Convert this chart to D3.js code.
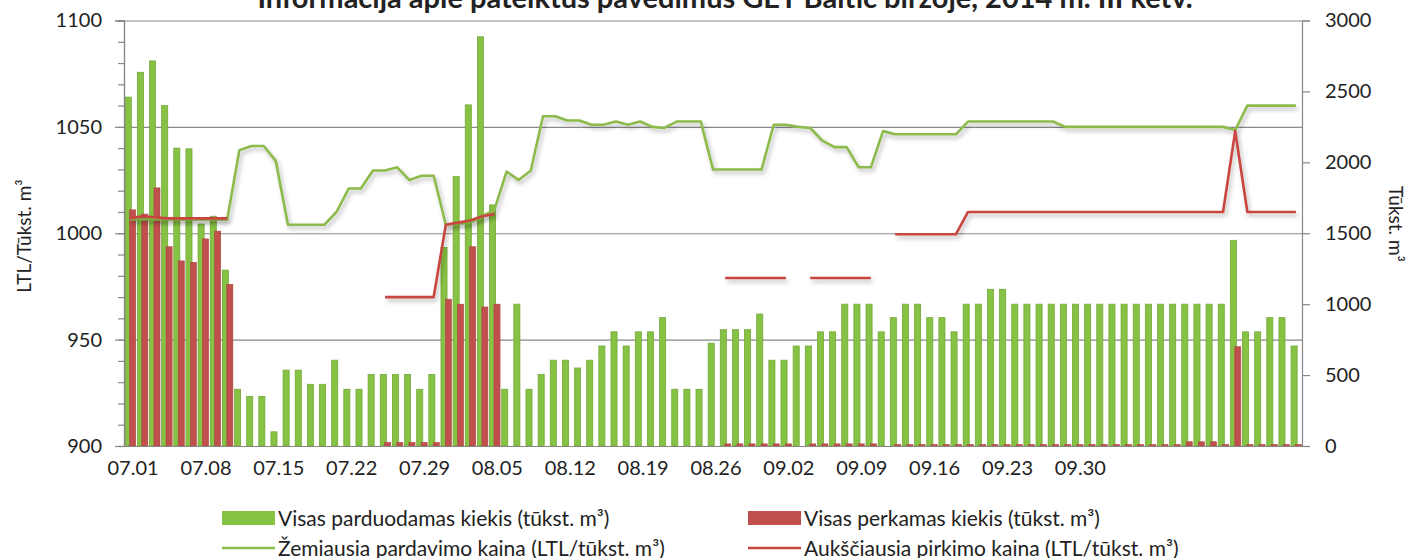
<!DOCTYPE html>
<html>
<head>
<meta charset="utf-8">
<script src="https://cdn.jsdelivr.net/npm/d3@7"></script>
<style>
  body { margin: 0; background: #fff; }
  svg { display: block; font-family: Lato, "Noto Sans", sans-serif; }
</style>
</head>
<body>
<svg width="1410" height="558"></svg>
<script>
// dienos (kategorijos), po 6 per savaitę
var categories = [
  "07.01","07.02","07.03","07.04","07.05","07.06",
  "07.08","07.09","07.10","07.11","07.12","07.13",
  "07.15","07.16","07.17","07.18","07.19","07.20",
  "07.22","07.23","07.24","07.25","07.26","07.27",
  "07.29","07.30","07.31","08.01","08.02","08.03",
  "08.05","08.06","08.07","08.08","08.09","08.10",
  "08.12","08.13","08.14","08.15","08.16","08.17",
  "08.19","08.20","08.21","08.22","08.23","08.24",
  "08.26","08.27","08.28","08.29","08.30","08.31",
  "09.02","09.03","09.04","09.05","09.06","09.07",
  "09.09","09.10","09.11","09.12","09.13","09.14",
  "09.16","09.17","09.18","09.19","09.20","09.21",
  "09.23","09.24","09.25","09.26","09.27","09.28",
  "09.30","10.01","10.02","10.03","10.04","10.05",
  "10.07","10.08","10.09","10.10","10.11","10.12",
  "10.14","10.15","10.16","10.17","10.18","10.19",
  "10.21"
];
var tickLabels = ["07.01","07.08","07.15","07.22","07.29","08.05","08.12",
  "08.19","08.26","09.02","09.09","09.16","09.23","09.30"];

// Visas parduodamas kiekis (tūkst. m3)
var sellVolume = [
  2460, 2635, 2715, 2400, 2100, 2095,
  1565, 1620, 1240, 400, 350, 350,
  100, 535, 535, 435, 435, 605,
  400, 400, 505, 505, 505, 505,
  400, 505, 1400, 1900, 2405, 2885,
  1700, 400, 1000, 400, 505, 605,
  605, 550, 605, 705, 805, 705,
  805, 805, 905, 400, 400, 400,
  725, 820, 820, 820, 930, 605,
  605, 705, 705, 805, 805, 1000,
  1000, 1000, 805, 905, 1000, 1000,
  905, 905, 805, 1000, 1000, 1105,
  1105, 1000, 1000, 1000, 1000, 1000,
  1000, 1000, 1000, 1000, 1000, 1000,
  1000, 1000, 1000, 1000, 1000, 1000,
  1000, 1450, 805, 805, 905, 905,
  705
];
// Visas perkamas kiekis (tūkst. m3)
var buyVolume = [
  1665, 1635, 1820, 1405, 1305, 1295,
  1460, 1515, 1140, 0, 0, 0,
  0, 0, 0, 0, 0, 0,
  0, 0, 0, 25, 25, 25,
  25, 25, 1035, 1000, 1405, 980,
  1000, 0, 0, 0, 0, 0,
  0, 0, 0, 0, 0, 0,
  0, 0, 0, 0, 0, 0,
  0, 15, 15, 15, 15, 15,
  15, 0, 15, 15, 15, 15,
  15, 15, 0, 10, 10, 10,
  10, 10, 10, 10, 10, 10,
  10, 10, 10, 10, 10, 10,
  10, 10, 10, 10, 10, 10,
  10, 10, 10, 30, 30, 30,
  10, 700, 10, 10, 10, 10,
  10
];
// Žemiausia pardavimo kaina (LTL/tūkst. m3)
var minSellPrice = [
  1006.5, 1006.5, 1006.5, 1006.5, 1006.5, 1006.5,
  1006.5, 1006.5, 1006.5, 1039, 1041, 1041,
  1034, 1004, 1004, 1004, 1004, 1010,
  1021, 1021, 1029.5, 1029.5, 1031, 1025,
  1027, 1027, 1004, 1004.5, 1005, 1008,
  1011, 1029, 1025, 1029.5, 1055, 1055,
  1053, 1053, 1051, 1051, 1052.5, 1051,
  1052.5, 1050, 1049.5, 1052.5, 1052.5, 1052.5,
  1030, 1030, 1030, 1030, 1030, 1051,
  1051, 1050, 1049.5, 1043.5, 1040.5, 1040.5,
  1031, 1031, 1048, 1046.5, 1046.5, 1046.5,
  1046.5, 1046.5, 1046.5, 1052.5, 1052.5, 1052.5,
  1052.5, 1052.5, 1052.5, 1052.5, 1052.5, 1050,
  1050, 1050, 1050, 1050, 1050, 1050,
  1050, 1050, 1050, 1050, 1050, 1050,
  1050, 1048.5, 1060, 1060, 1060, 1060,
  1060
];
// Aukščiausia pirkimo kaina (LTL/tūkst. m3)
var maxBuyPrice = [
  1007, 1008, 1007.5, 1007, 1007, 1007,
  1007, 1007, 1007, null, null, null,
  null, null, null, null, null, null,
  null, null, null, 970, 970, 970,
  970, 970, 1004, 1005, 1006, 1008,
  1009, null, null, null, null, null,
  null, null, null, null, null, null,
  null, null, null, null, null, null,
  null, 979, 979, 979, 979, 979,
  979, null, 979, 979, 979, 979,
  979, 979, null, 999.5, 999.5, 999.5,
  999.5, 999.5, 999.5, 1010, 1010, 1010,
  1010, 1010, 1010, 1010, 1010, 1010,
  1010, 1010, 1010, 1010, 1010, 1010,
  1010, 1010, 1010, 1010, 1010, 1010,
  1010, 1048, 1010, 1010, 1010, 1010,
  1010
];

var GREEN_BAR = "#86c243", GREEN_EDGE = "#74a83a";
var RED_BAR = "#c0504d", RED_EDGE = "#ad4542";
var GREEN_LINE = "#8cbb4b", RED_LINE = "#c9453f";
var AXIS = "#888", TEXT = "#222";

var plot = {left: 124, right: 1302, top: 20.5, bottom: 446};
var svg = d3.select("svg");

var defs = svg.append("defs");
defs.append("filter").attr("id", "shadow")
    .attr("x", "-5%").attr("y", "-20%").attr("width", "110%").attr("height", "140%")
    .append("feDropShadow")
    .attr("dx", 2).attr("dy", 3).attr("stdDeviation", 2.2)
    .attr("flood-color", "#000").attr("flood-opacity", 0.28);

var x = d3.scaleBand().domain(categories).range([plot.left, plot.right]);
var yL = d3.scaleLinear().domain([900, 1100]).range([plot.bottom, plot.top]);
var yR = d3.scaleLinear().domain([0, 3000]).range([plot.bottom, plot.top]);
var bw = x.bandwidth();
var barW = bw * 0.5;

// title (cut at the top, as in the original)
svg.append("text")
    .attr("x", 725).attr("y", 7.5)
    .attr("text-anchor", "middle")
    .attr("font-size", 29).attr("font-weight", "bold").attr("fill", TEXT)
    .text("Informacija apie pateiktus pavedimus GET Baltic biržoje, 2014 m. III ketv.");

// gridlines
svg.append("g")
    .attr("transform", "translate(" + plot.left + ",0)")
    .call(d3.axisLeft(yL).tickValues([950, 1000, 1050, 1100])
        .tickSize(-(plot.right - plot.left)).tickFormat(""))
    .call(function(g) {
        g.select(".domain").remove();
        g.selectAll("line").attr("stroke", AXIS).attr("stroke-width", 1.2);
    });

// bars
var bars = svg.append("g");
bars.selectAll(".sell")
    .data(sellVolume)
    .enter().append("rect")
    .attr("class", "sell")
    .attr("x", function(d, i) { return x(categories[i]) + bw / 2 - barW * 0.8; })
    .attr("y", function(d) { return yR(d); })
    .attr("width", barW)
    .attr("height", function(d) { return plot.bottom - yR(d); })
    .attr("fill", GREEN_BAR)
    .attr("stroke", GREEN_EDGE).attr("stroke-width", 0.8);

bars.selectAll(".buy")
    .data(buyVolume)
    .enter().append("rect")
    .attr("class", "buy")
    .attr("x", function(d, i) { return x(categories[i]) + bw / 2 - barW * 0.07; })
    .attr("y", function(d) { return yR(d); })
    .attr("width", barW)
    .attr("height", function(d) { return plot.bottom - yR(d); })
    .attr("fill", RED_BAR)
    .attr("stroke", d => d > 0 ? RED_EDGE : "none").attr("stroke-width", 0.6);

// lines
var line = d3.line()
    .defined(function(d) { return d != null; })
    .x(function(d, i) { return x(categories[i]) + bw / 2; })
    .y(function(d) { return yL(d); });

svg.append("path")
    .datum(minSellPrice)
    .attr("d", line)
    .attr("fill", "none")
    .attr("stroke", GREEN_LINE).attr("stroke-width", 2.6)
    .attr("stroke-linejoin", "round")
    .attr("filter", "url(#shadow)");

svg.append("path")
    .datum(maxBuyPrice)
    .attr("d", line)
    .attr("fill", "none")
    .attr("stroke", RED_LINE).attr("stroke-width", 2.6)
    .attr("stroke-linejoin", "round")
    .attr("filter", "url(#shadow)");

// axes
function styleAxis(g) {
    g.select(".domain").attr("stroke", AXIS).attr("stroke-width", 1.2);
    g.selectAll(".tick line").attr("stroke", AXIS).attr("stroke-width", 1.2);
    g.selectAll("text").attr("fill", TEXT).attr("font-size", 20)
        .attr("font-family", "Lato, sans-serif");
}

svg.append("g")
    .attr("transform", "translate(" + plot.left + ",0)")
    .call(d3.axisLeft(yL).tickValues(d3.range(900, 1101, 10)).tickSize(6).tickFormat(""))
    .call(styleAxis);

svg.append("g")
    .attr("transform", "translate(" + plot.left + ",0)")
    .call(d3.axisLeft(yL).tickValues([900, 950, 1000, 1050, 1100])
        .tickSize(9).tickPadding(13).tickFormat(d3.format("d")))
    .call(styleAxis);

svg.append("g")
    .attr("transform", "translate(" + plot.right + ",0)")
    .call(d3.axisRight(yR).tickValues(d3.range(0, 3001, 500))
        .tickSize(8).tickPadding(15).tickFormat(d3.format("d")))
    .call(styleAxis);

svg.append("g")
    .attr("transform", "translate(0," + plot.bottom + ")")
    .call(d3.axisBottom(x).tickValues(tickLabels).tickSize(0).tickPadding(15))
    .call(styleAxis)
    .call(function(g) { g.selectAll("text").attr("dx", 3); });

// axis titles
svg.append("text")
    .attr("transform", "translate(31,236) rotate(-90)")
    .attr("text-anchor", "middle")
    .attr("font-size", 19).attr("fill", TEXT)
    .text("LTL/Tūkst. m³");

svg.append("text")
    .attr("transform", "translate(1389,224) rotate(90)")
    .attr("text-anchor", "middle")
    .attr("font-size", 19).attr("fill", TEXT)
    .text("Tūkst. m³");

// legend
var legendItems = [
    {name: "Visas parduodamas kiekis (tūkst. m³)", color: GREEN_BAR, type: "bar", x: 222, y: 518},
    {name: "Visas perkamas kiekis (tūkst. m³)", color: RED_BAR, type: "bar", x: 748, y: 518},
    {name: "Žemiausia pardavimo kaina (LTL/tūkst. m³)", color: GREEN_LINE, type: "line", x: 222, y: 548},
    {name: "Aukščiausia pirkimo kaina (LTL/tūkst. m³)", color: RED_LINE, type: "line", x: 748, y: 548}
];
var lg = svg.append("g").selectAll("g")
    .data(legendItems)
    .enter().append("g")
    .attr("transform", function(d) { return "translate(" + d.x + "," + d.y + ")"; });

lg.filter(function(d) { return d.type == "bar"; })
    .append("rect")
    .attr("x", 0).attr("y", -7).attr("width", 53).attr("height", 14)
    .attr("fill", function(d) { return d.color; });

lg.filter(function(d) { return d.type == "line"; })
    .append("line")
    .attr("x1", 0).attr("x2", 53).attr("y1", 0).attr("y2", 0)
    .attr("stroke", function(d) { return d.color; }).attr("stroke-width", 2.6);

lg.append("text")
    .attr("x", 56).attr("y", 7.5)
    .attr("font-size", 21).attr("fill", TEXT)
    .text(function(d) { return d.name; });
</script>
</body>
</html>
